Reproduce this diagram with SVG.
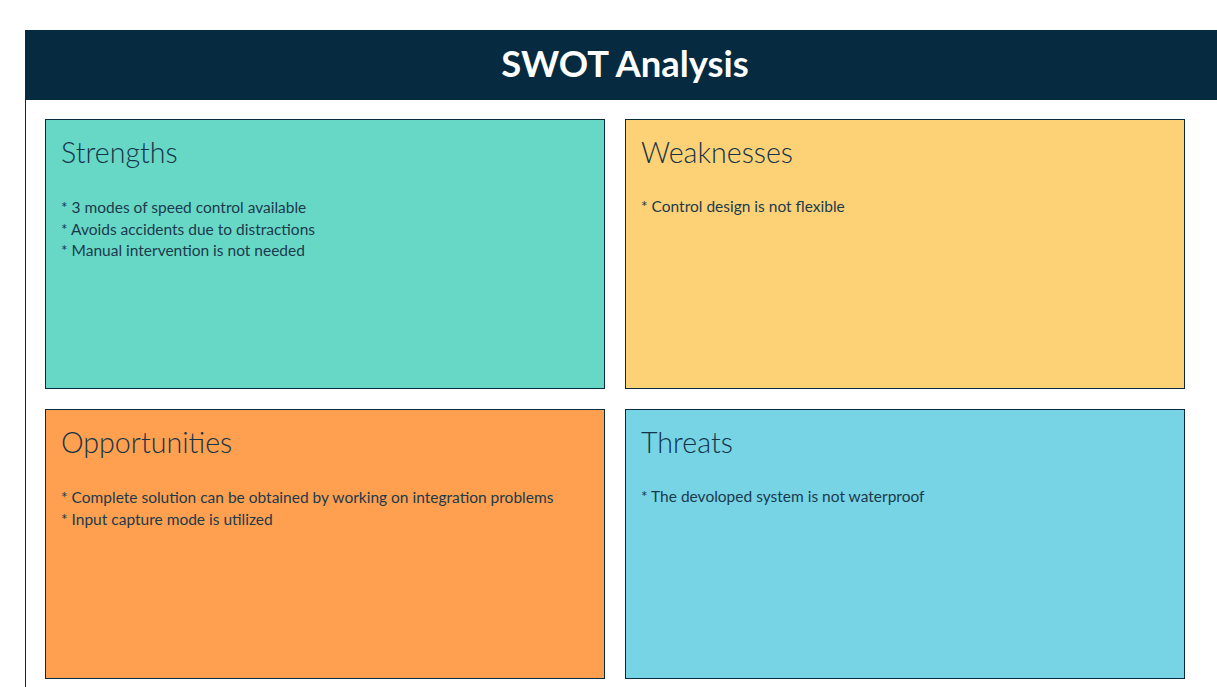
<svg xmlns="http://www.w3.org/2000/svg" width="1217" height="687" viewBox="0 0 1217 687">
  <style>
    .frame { fill: none; stroke: #082b3f; stroke-width: 1; }
    .card { stroke: #082b3f; stroke-width: 1; }
    .title { font-family: Lato, "Liberation Sans", sans-serif; font-weight: 700; font-size: 36.4px; fill: #ffffff; }
    .head { font-family: Lato, "Liberation Sans", sans-serif; font-weight: 300; font-size: 28.6px; fill: #14344a; }
    .item { font-family: Lato, "Liberation Sans", sans-serif; font-size: 15.5px; fill: #1c3a4c; }
  </style>
  <rect width="1217" height="687" fill="#ffffff"/>
  <!-- outer frame and title bar -->
  <line class="frame" x1="25.5" y1="30" x2="25.5" y2="687"/>
  <rect x="25" y="30" width="1192" height="70" fill="#062a3f"/>
  <text class="title" x="625" y="77" text-anchor="middle">SWOT Analysis</text>

  <g id="strengths">
    <rect class="card" x="45.5" y="119.5" width="559" height="269" fill="#68d8c6"/>
    <text class="head" x="61" y="163">Strengths</text>
    <text class="item" x="61" y="213">* 3 modes of speed control available</text>
    <text class="item" x="61" y="235">* Avoids accidents due to distractions</text>
    <text class="item" x="61" y="256">* Manual intervention is not needed</text>
  </g>
  <g id="weaknesses">
    <rect class="card" x="625.5" y="119.5" width="559" height="269" fill="#fdd276"/>
    <text class="head" x="641" y="163">Weaknesses</text>
    <text class="item" x="641" y="212">* Control design is not flexible</text>
  </g>
  <g id="opportunities">
    <rect class="card" x="45.5" y="409.5" width="559" height="269" fill="#fea04f"/>
    <text class="head" x="61" y="453">Opportunities</text>
    <text class="item" x="61" y="503">* Complete solution can be obtained by working on integration problems</text>
    <text class="item" x="61" y="525">* Input capture mode is utilized</text>
  </g>
  <g id="threats">
    <rect class="card" x="625.5" y="409.5" width="559" height="269" fill="#76d4e5"/>
    <text class="head" x="641" y="453">Threats</text>
    <text class="item" x="641" y="502">* The devoloped system is not waterproof</text>
  </g>
  <g id="connectors"/>
</svg>
